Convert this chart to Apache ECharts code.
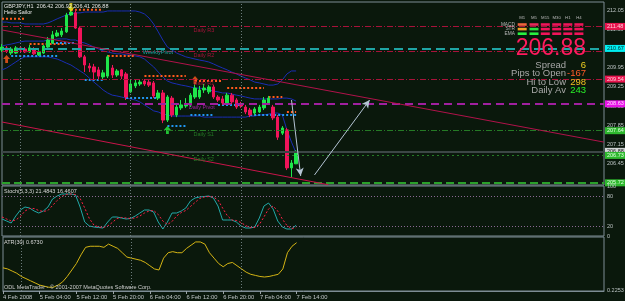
<!DOCTYPE html>
<html><head><meta charset="utf-8">
<script src="https://cdn.jsdelivr.net/npm/echarts@6/dist/echarts.min.js"></script>
<style>html,body{margin:0;padding:0;background:#0a180c;}#c{width:625px;height:301px;}</style>
</head><body><div id="c"></div>
<script>
// ---------- DATA ----------
const MONTHS = ['Jan','Feb','Mar','Apr','May','Jun','Jul','Aug','Sep','Oct','Nov','Dec'];
const categories = [];
for (let i = 0; i < 132; i++) {
  const d = new Date(Date.UTC(2008, 1, 4, 20 + i));
  categories.push(d.getUTCDate() + ' ' + MONTHS[d.getUTCMonth()] + ' ' + String(d.getUTCHours()).padStart(2,'0') + ':00');
}
const xTickIdx  = [0, 8, 16, 24, 32, 40, 48, 56, 64];
const xTickText = ['4 Feb 2008','5 Feb 04:00','5 Feb 12:00','5 Feb 20:00','6 Feb 04:00','6 Feb 12:00','6 Feb 20:00','7 Feb 04:00','7 Feb 14:00'];
const daySeparators = [4, 28, 52];

const opens = [210.61,210.69,210.50,210.50,210.69,210.65,210.54,210.65,210.43,210.50,
210.72,210.87,211.13,211.17,211.28,211.90,211.98,211.42,210.36,210.02,
209.99,209.88,209.62,209.65,209.95,209.69,209.88,209.73,209.07,209.29,
209.36,209.47,209.43,209.40,208.84,209.03,208.03,208.84,208.22,208.48,
208.55,208.59,208.88,208.88,209.14,209.07,209.25,208.88,208.81,208.66,
208.95,208.77,208.62,208.51,208.40,208.29,208.33,208.48,208.66,208.51,
208.14,207.55,207.67,206.27,206.42];
const closes = [210.72,210.58,210.65,210.69,210.61,210.54,210.69,210.47,210.54,210.76,
210.98,211.17,211.24,211.31,211.90,212.01,211.42,210.36,210.06,209.95,
209.80,209.65,209.77,210.36,209.69,209.84,209.65,208.88,209.36,209.40,
209.43,209.36,209.32,208.92,209.03,208.03,208.88,208.22,208.51,208.59,
208.62,208.95,209.21,209.14,209.21,209.25,208.88,208.77,208.66,208.95,
208.70,208.51,208.55,208.33,208.22,208.44,208.51,208.77,208.84,208.11,
207.40,207.74,206.27,206.45,206.88];
const lows = [210.54,210.50,210.43,210.47,210.54,210.50,210.50,210.43,210.39,210.47,
210.69,210.83,211.09,211.09,211.24,211.87,211.39,210.32,209.80,209.80,
209.51,209.54,209.51,209.58,209.58,209.62,209.54,208.77,209.03,209.21,
209.29,209.29,209.25,208.84,208.77,207.92,207.96,208.14,208.14,208.40,
208.48,208.51,208.81,208.81,209.03,208.99,208.81,208.70,208.59,208.59,
208.62,208.44,208.48,208.25,208.14,208.22,208.29,208.40,208.59,208.03,
207.30,207.48,206.19,205.93,206.41];
const highs = [210.83,210.76,210.72,210.76,210.76,210.72,210.80,210.72,210.61,210.80,
211.09,211.31,211.35,211.42,211.98,212.23,212.09,211.46,210.43,210.13,
210.10,209.99,209.88,210.43,210.06,209.91,209.91,209.80,209.51,209.51,
209.51,209.54,209.51,209.47,209.14,209.14,208.95,208.92,208.66,208.77,
208.84,209.03,209.43,209.29,209.36,209.32,209.32,208.95,208.92,209.03,
209.03,208.84,208.70,208.59,208.48,208.51,208.59,208.88,208.92,208.59,
208.22,207.81,207.74,206.56,206.92];

const bbUpper = [211.64,211.64,211.61,211.61,211.61,211.57,211.57,211.57,211.57,211.57,
211.61,211.68,211.76,211.83,211.90,211.94,211.98,211.98,212.01,212.01,
212.01,212.01,212.01,212.05,212.05,212.05,212.05,212.05,212.05,212.05,
212.01,211.94,211.79,211.57,211.28,210.98,210.72,210.61,210.50,210.43,
210.36,210.32,210.28,210.24,210.21,210.17,210.10,210.02,209.95,209.88,
209.80,209.73,209.65,209.58,209.51,209.43,209.40,209.36,209.32,209.32,
209.36,209.51,209.73,209.84,209.84];
const bbMid = [210.76,210.80,210.83,210.87,210.91,210.94,210.94,210.94,210.94,210.94,
210.98,210.98,211.02,211.02,211.02,210.98,210.98,210.91,210.87,210.80,
210.72,210.65,210.58,210.54,210.50,210.47,210.47,210.43,210.43,210.39,
210.36,210.28,210.13,209.99,209.80,209.62,209.47,209.40,209.36,209.32,
209.29,209.25,209.21,209.21,209.18,209.14,209.10,209.07,209.03,209.03,
208.99,208.95,208.92,208.88,208.84,208.81,208.81,208.81,208.81,208.81,
208.81,208.84,208.84,208.81,208.73];
const bbLower = [209.88,209.95,210.06,210.17,210.28,210.36,210.36,210.36,210.36,210.36,
210.36,210.32,210.28,210.21,210.13,210.06,209.95,209.84,209.73,209.58,
209.43,209.29,209.14,209.03,208.95,208.92,208.88,208.84,208.81,208.77,
208.70,208.59,208.48,208.37,208.33,208.25,208.22,208.18,208.18,208.18,
208.18,208.18,208.18,208.18,208.14,208.14,208.14,208.14,208.14,208.14,
208.14,208.14,208.14,208.14,208.18,208.18,208.22,208.22,208.25,208.29,
208.29,208.22,207.67,207.22,206.82];

const _ = null;
const orangeA = [211.76,211.76,211.76,211.76,211.76,211.76,_,_,_,_,_,_,_,_,_,
212.09,212.09,212.09,212.09,212.09,212.09,212.09,212.09,_,_,_,_,_,_,_,_,
209.65,209.65,209.65,209.65,209.65,209.65,209.65,209.65,209.65,209.65,_,_,_,_,_,_,_,_,
209.21,209.21,209.21,209.21,209.21,209.21,209.21,209.21,209.21,_,_,_,_,208.33,208.33,208.33];
const orangeB = [_,_,_,_,_,_,210.83,210.83,210.83,210.83,210.83,210.83,210.83,210.83,210.83,
_,_,_,_,_,_,_,_,210.39,210.39,210.39,210.39,210.39,210.39,210.39,_,_,_,_,_,_,_,_,_,_,_,_,
209.47,209.47,209.47,209.47,209.47,209.47,209.47,_,_,_,_,_,_,_,_,_,208.88,208.88,208.88,208.88,_,_,_];
const blueA = [_,_,210.39,210.39,210.39,210.39,210.39,210.39,210.39,210.39,210.39,210.39,210.39,
_,_,_,_,_,209.51,209.51,209.51,209.51,209.51,_,_,_,_,
208.84,208.84,208.84,208.84,208.84,208.84,208.84,208.84,_,207.81,207.81,207.81,207.81,207.81,
_,_,_,_,_,_,208.59,208.59,208.59,208.59,208.59,208.59,_,_,_,_,_,_,_,_,_,_,_,_];
const blueB = [_,_,_,_,_,_,_,_,_,_,210.87,210.87,210.87,210.87,210.87,210.87,210.87,
_,_,_,_,_,_,_,_,_,_,_,_,_,_,_,_,_,_,_,_,_,_,_,_,
208.22,208.22,208.22,208.22,208.22,208.22,_,_,_,_,_,_,_,
208.22,208.22,208.22,208.22,208.22,208.22,208.22,208.22,208.22,208.22,208.22];

const arrowDownYellow = [[15, 212.18]];
const arrowUpOrange   = [[1, 210.28], [42, 209.51]];
const arrowUpGreen    = [[36, 207.67]];

const levelNames  = ['Daily R3','Daily R2','Daily R1','Daily Pivot','Daily S1','Daily S2',''];
const levelValues = [211.48, 210.55, 209.54, 208.63, 207.64, 206.73, 205.72];
const weeklyPivot = 210.67;
const bidPrice = 206.88;
const trendUpper = [[0, 211.35], [131, 207.22]];
const trendLower = [[0, 207.96], [71, 205.65]];
const drawnArrow1 = [[63, 208.77], [65, 205.97]];
const drawnArrow2 = [[68, 206.01], [80, 208.77]];

const priceTicks = [206.45, 207.15, 207.85, 208.55, 209.25, 209.95, 210.65, 211.35, 212.05];

const stochMain = [34,30,26,40,52,58,56,50,46,50,58,74,80,84,84,84,82,58,28,20,18,17,16,28,38,38,36,34,35,40,46,52,52,48,28,14,28,46,46,50,56,70,76,78,79,80,76,60,32,32,32,28,20,16,16,18,36,60,66,54,30,18,14,14,21.48];
const stochSignal = [38,34,30,32,39,50,55,55,51,49,51,61,71,79,83,84,83,75,56,35,22,18,17,20,27,35,37,36,35,36,40,46,50,51,43,30,23,29,40,47,51,59,67,75,78,79,78,72,56,41,32,31,27,21,17,17,23,38,54,60,50,34,21,15,16.46];
const atr = [0.44,0.43,0.41,0.39,0.36,0.34,0.32,0.30,0.28,0.27,0.26,0.26,0.28,0.31,0.36,0.42,0.48,0.56,0.63,0.64,0.64,0.64,0.63,0.66,0.64,0.62,0.58,0.54,0.53,0.52,0.51,0.49,0.46,0.43,0.42,0.53,0.58,0.59,0.58,0.58,0.62,0.65,0.68,0.68,0.66,0.58,0.53,0.48,0.45,0.48,0.49,0.46,0.43,0.40,0.38,0.37,0.36,0.355,0.36,0.37,0.38,0.43,0.58,0.64,0.673];

const tfNames = ['M1','M5','M15','M30','H1','H4'];
const rowNames = ['MACD','STR','EMA'];
const signalColors = [ // rows x timeframes
  ['#f0643c','#e8285a','#f0145a','#f0145a','#f0145a','#f0145a'],
  ['#f0a028','#28e040','#f0145a','#f0145a','#f0145a','#f0145a'],
  ['#28f040','#28f040','#f0145a','#f0145a','#f0145a','#f0145a']
];
const infoRows = [['Spread','6','#f0d020'],['Pips to Open','-167','#ff5a28'],['Hi to Low','298','#f0c020'],['Daily Av','243','#28f028']];

// ---------- CHART ----------
const FONT = 'Liberation Sans';
const SMALL = 5.5;
const GRID_BORDER = '#7d8c94';
const candleData = opens.map((o, i) => [o, closes[i], lows[i], highs[i]]);
const c = (i) => categories[i];

const levelColors = ['#a8123a','#a8123a','#a8123a','#a020a0','#257a25','#257a25','#2aa02a'];
const levelTypes  = [[6,2,1,2],[6,2,1,2],[6,2,1,2],[8,5],[6,2,1,2],[2,3],[8,4]];
const levelWidths = [1,1,1,2,1,1,2];
const levelLabelIdx = [41,41,41,40,41,41,41];

const mlLevels = levelValues.map((v,k)=>({yAxis:v, lineStyle:{color:levelColors[k], width:levelWidths[k], type:levelTypes[k]}}));
mlLevels.push({yAxis:weeklyPivot, lineStyle:{color:'#1fa5a5', width:2, type:[9,5]}});
mlLevels.push({yAxis:bidPrice, lineStyle:{color:'#3c4646', width:2, type:'solid'}});
mlLevels.push([{coord:[c(trendUpper[0][0]), trendUpper[0][1]], lineStyle:{color:'#b0124a', width:1, type:'solid'}},{coord:[c(trendUpper[1][0]), trendUpper[1][1]]}]);
mlLevels.push([{coord:[c(trendLower[0][0]), trendLower[0][1]], lineStyle:{color:'#c8144a', width:1, type:'solid'}},{coord:[c(trendLower[1][0]), trendLower[1][1]]}]);
daySeparators.forEach(i => mlLevels.push({xAxis:c(i), lineStyle:{color:'#6c7c7c', width:1, type:[1,2]}}));

const mpLevels = levelNames.map((n,k)=>({coord:[c(levelLabelIdx[k]), levelValues[k]], name:n,
  label:{color:levelColors[k]}}));
mpLevels.push({coord:[c(30), weeklyPivot], name:'WeeklyPivot', label:{color:'#1fa5a5'}});

const boxDefs = [
  [levelValues[0], '#e8144e', '#ffd0dc'],
  [weeklyPivot, '#00eef0', '#003030'],
  [levelValues[2], '#e8144e', '#ffd0dc'],
  [levelValues[3], '#e812e8', '#ffe0ff'],
  [levelValues[4], '#2eb82e', '#e0ffe0'],
  [bidPrice, '#d0d4d4', '#202020'],
  [levelValues[5], '#2eb82e', '#e0ffe0'],
  [levelValues[6], '#2eb82e', '#e0ffe0']
];

function vSeps(gi){
  return {type:'line', xAxisIndex:gi, yAxisIndex:gi, data:[], silent:true, z:1,
    markLine:{silent:true, symbol:['none','none'], animation:false, label:{show:false},
      data: daySeparators.map(i=>({xAxis:c(i), lineStyle:{color:'#6c7c7c', width:1, type:[1,2]}}))}};
}

const textEl = (text, x, y, fill, size, align, valign) => ({type:'text', x, y, silent:true, z:50,
  style:{text, fill, font: size + 'px "' + FONT + '"', align: align||'left', textAlign: align||'left',
    verticalAlign: valign||'middle', textVerticalAlign: valign||'middle'}});

const graphics = [];
graphics.push(textEl('GBPJPY,H1  206.42 206.92 206.41 206.88', 4, 6, '#e6e6e6', SMALL));
graphics.push(textEl('Hello Sailor', 4, 12.5, '#e6e6e6', SMALL));
graphics.push(textEl('Stoch(5,3,3) 21.4843 16.4607', 4, 191, '#d8d8d8', SMALL));
graphics.push(textEl('ATR(30) 0.6730', 4, 242, '#d8d8d8', SMALL));
graphics.push(textEl('ODL MetaTrader - \u00a9 2001-2007 MetaQuotes Software Corp.', 4, 287, '#cfcfcf', SMALL));
const tfX = [517.7, 529.5, 540.8, 552.2, 563.3, 574.4];
const rowY = [23.2, 27.8, 32.4];
tfNames.forEach((n,j)=>graphics.push(textEl(n, tfX[j]+4.5, 18, '#b8b8b8', 4.3, 'center')));
rowNames.forEach((n,r)=>graphics.push(textEl(n, 515, rowY[r]+1.2, '#b8b8b8', 4.8, 'right')));
signalColors.forEach((row,r)=>row.forEach((col,j)=>graphics.push({type:'rect', silent:true, z:50,
  shape:{x:tfX[j], y:rowY[r], width:9, height:2.6}, style:{fill:col}})));
graphics.push(textEl('206.88', 586, 48.5, '#ff1a5e', 23, 'right'));
infoRows.forEach((row,k)=>{
  graphics.push(textEl(row[0], 566, 65 + k*8.5, '#a8a8a8', 9.5, 'right'));
  graphics.push(textEl(row[1], 586, 65 + k*8.5, row[2], 9.5, 'right'));
});

const option = {
  backgroundColor: '#0a180c',
  animation: false,
  grid: [
    {left:2, top:2, width:602, height:183, show:true, borderColor:GRID_BORDER, borderWidth:1, backgroundColor:'transparent'},
    {left:2, top:186, width:602, height:50, show:true, borderColor:GRID_BORDER, borderWidth:1, backgroundColor:'transparent'},
    {left:2, top:237, width:602, height:54, show:true, borderColor:GRID_BORDER, borderWidth:1, backgroundColor:'transparent'}
  ],
  xAxis: [0,1,2].map(k=>({type:'category', gridIndex:k, data:categories, boundaryGap:false,
    axisLine:{show:k===2, lineStyle:{color:GRID_BORDER}},
    axisTick:{show:k===2, interval:(i)=>xTickIdx.includes(i), length:3, lineStyle:{color:'#9aa4a8'}},
    axisLabel:{show:k===2, interval:(i)=>xTickIdx.includes(i), align:'left', margin:3,
      color:'#c0c6c8', fontSize:5.8, fontFamily:FONT,
      formatter:(v,i)=>{const t=xTickIdx.indexOf(i); return t>=0?xTickText[t]:'';}},
    splitLine:{show:false}})),
  yAxis: [
    {type:'value', gridIndex:0, min:205.64, max:212.38, show:false},
    {type:'value', gridIndex:1, min:0, max:100, show:false},
    {type:'value', gridIndex:2, min:0.2253, max:0.7258, show:false}
  ],
  graphic: graphics,
  series: [
    {name:'levels', type:'line', xAxisIndex:0, yAxisIndex:0, data:[], silent:true, z:1, clip:false,
      markLine:{silent:true, symbol:['none','none'], animation:false, label:{show:false},
        lineStyle:{color:'#b0124a', width:1, type:'solid'}, data:mlLevels},
      markPoint:{silent:true, symbol:'circle', symbolSize:0, animation:false,
        label:{show:true, position:'right', distance:3, offset:[0,4], fontSize:SMALL, fontFamily:FONT, formatter:'{b}'},
        data:mpLevels}},
    {name:'bbUpper', type:'line', xAxisIndex:0, yAxisIndex:0, data:bbUpper, symbol:'none', silent:true, z:2,
      lineStyle:{color:'#1a2db4', width:1}},
    {name:'bbMid', type:'line', xAxisIndex:0, yAxisIndex:0, data:bbMid, symbol:'none', silent:true, z:2,
      lineStyle:{color:'#1a2db4', width:1}},
    {name:'bbLower', type:'line', xAxisIndex:0, yAxisIndex:0, data:bbLower, symbol:'none', silent:true, z:2,
      lineStyle:{color:'#1a2db4', width:1}},
    {name:'orangeA', type:'line', data:orangeA, symbol:'none', silent:true, z:2, lineStyle:{color:'#ff5a1e', width:2, type:[2,2]}},
    {name:'orangeB', type:'line', data:orangeB, symbol:'none', silent:true, z:2, lineStyle:{color:'#ff5a1e', width:2, type:[2,2]}},
    {name:'blueA', type:'line', data:blueA, symbol:'none', silent:true, z:2, lineStyle:{color:'#2296f0', width:2, type:[2,2]}},
    {name:'blueB', type:'line', data:blueB, symbol:'none', silent:true, z:2, lineStyle:{color:'#2296f0', width:2, type:[2,2]}},
    {name:'GBPJPY', type:'candlestick', xAxisIndex:0, yAxisIndex:0, data:candleData, barWidth:3, silent:true, z:3,
      itemStyle:{color:'#1ee64a', color0:'#f0145a', borderColor:'#1ee64a', borderColor0:'#f0145a', borderWidth:1}},
    {name:'arrowDown', type:'scatter', data:arrowDownYellow, silent:true, z:4,
      symbol:'path://M3,0H7V5H10L5,10L0,5H3Z', symbolSize:[7,9], itemStyle:{color:'#f0e010'}},
    {name:'arrowUpO', type:'scatter', data:arrowUpOrange, silent:true, z:4,
      symbol:'path://M5,0L10,5H7V10H3V5H0Z', symbolSize:[7,8], itemStyle:{color:'#ff5a1e'}},
    {name:'arrowUpG', type:'scatter', data:arrowUpGreen, silent:true, z:4,
      symbol:'path://M5,0L10,5H7V10H3V5H0Z', symbolSize:[7,8], itemStyle:{color:'#28f040'}},
    {name:'drawn', type:'line', data:[], silent:true, z:4, clip:false,
      markLine:{silent:true, symbol:['none','arrow'], symbolSize:[6,8], animation:false, label:{show:false},
        lineStyle:{color:'#b4c4d4', width:1, type:'solid'},
        data:[[{coord:[c(drawnArrow1[0][0]), drawnArrow1[0][1]]},{coord:[c(drawnArrow1[1][0]), drawnArrow1[1][1]]}],
              [{coord:[c(drawnArrow2[0][0]), drawnArrow2[0][1]]},{coord:[c(drawnArrow2[1][0]), drawnArrow2[1][1]]}]]}},
    {name:'ticks', type:'line', data:[], silent:true, z:5, clip:false,
      markLine:{silent:true, symbol:['none','none'], animation:false,
        lineStyle:{color:'rgba(0,0,0,0)', width:1},
        label:{show:true, position:'end', distance:3, color:'#bcc4c4', fontSize:SMALL, fontFamily:FONT,
          formatter:(p)=>Number(p.value).toFixed(2)},
        data: priceTicks.map(v=>({yAxis:v}))}},
    {name:'boxes', type:'line', data:[], silent:true, z:6, clip:false,
      markLine:{silent:true, symbol:['none','none'], animation:false,
        lineStyle:{color:'rgba(0,0,0,0)', width:1},
        label:{show:true, position:'end', distance:1, fontSize:SMALL, fontFamily:FONT, padding:[1,2,0,2],
          formatter:(p)=>Number(p.value).toFixed(2)},
        data: boxDefs.map(b=>({yAxis:b[0], label:{backgroundColor:b[1], color:b[2]}}))}},
    vSeps(1), vSeps(2),
    {name:'stochMain', type:'line', xAxisIndex:1, yAxisIndex:1, data:stochMain, symbol:'none', silent:true, z:3,
      lineStyle:{color:'#22a8a8', width:1}},
    {name:'stochSignal', type:'line', xAxisIndex:1, yAxisIndex:1, data:stochSignal, symbol:'none', silent:true, z:3,
      lineStyle:{color:'#ff1e46', width:1, type:[2,2]}},
    {name:'stochScale', type:'line', xAxisIndex:1, yAxisIndex:1, data:[], silent:true, z:2, clip:false,
      markLine:{silent:true, symbol:['none','none'], animation:false,
        label:{show:true, position:'end', distance:3, color:'#bcc4c4', fontSize:SMALL, fontFamily:FONT},
        data:[
          {yAxis:100, lineStyle:{color:'rgba(0,0,0,0)'}, label:{formatter:'100', padding:[6,0,0,0]}},
          {yAxis:80, lineStyle:{color:'#8a6a94', width:1, type:[1,2]}, label:{formatter:'80'}},
          {yAxis:20, lineStyle:{color:'#8a6a94', width:1, type:[1,2]}, label:{formatter:'20'}},
          {yAxis:0, lineStyle:{color:'rgba(0,0,0,0)'}, label:{formatter:'0', padding:[0,0,8,0]}}
        ]}},
    {name:'atr', type:'line', xAxisIndex:2, yAxisIndex:2, data:atr, symbol:'none', silent:true, z:3,
      lineStyle:{color:'#d4b414', width:1}},
    {name:'atrScale', type:'line', xAxisIndex:2, yAxisIndex:2, data:[], silent:true, z:2, clip:false,
      markLine:{silent:true, symbol:['none','none'], animation:false,
        lineStyle:{color:'rgba(0,0,0,0)'},
        label:{show:true, position:'end', distance:3, color:'#bcc4c4', fontSize:SMALL, fontFamily:FONT},
        data:[
          {yAxis:0.7258, label:{formatter:'0.7258', padding:[10,0,0,0]}},
          {yAxis:0.2253, label:{formatter:'0.2253', padding:[0,0,6,0]}}
        ]}}
  ]
};
const chart = echarts.init(document.getElementById('c'));
chart.setOption(option);
</script></body></html>
